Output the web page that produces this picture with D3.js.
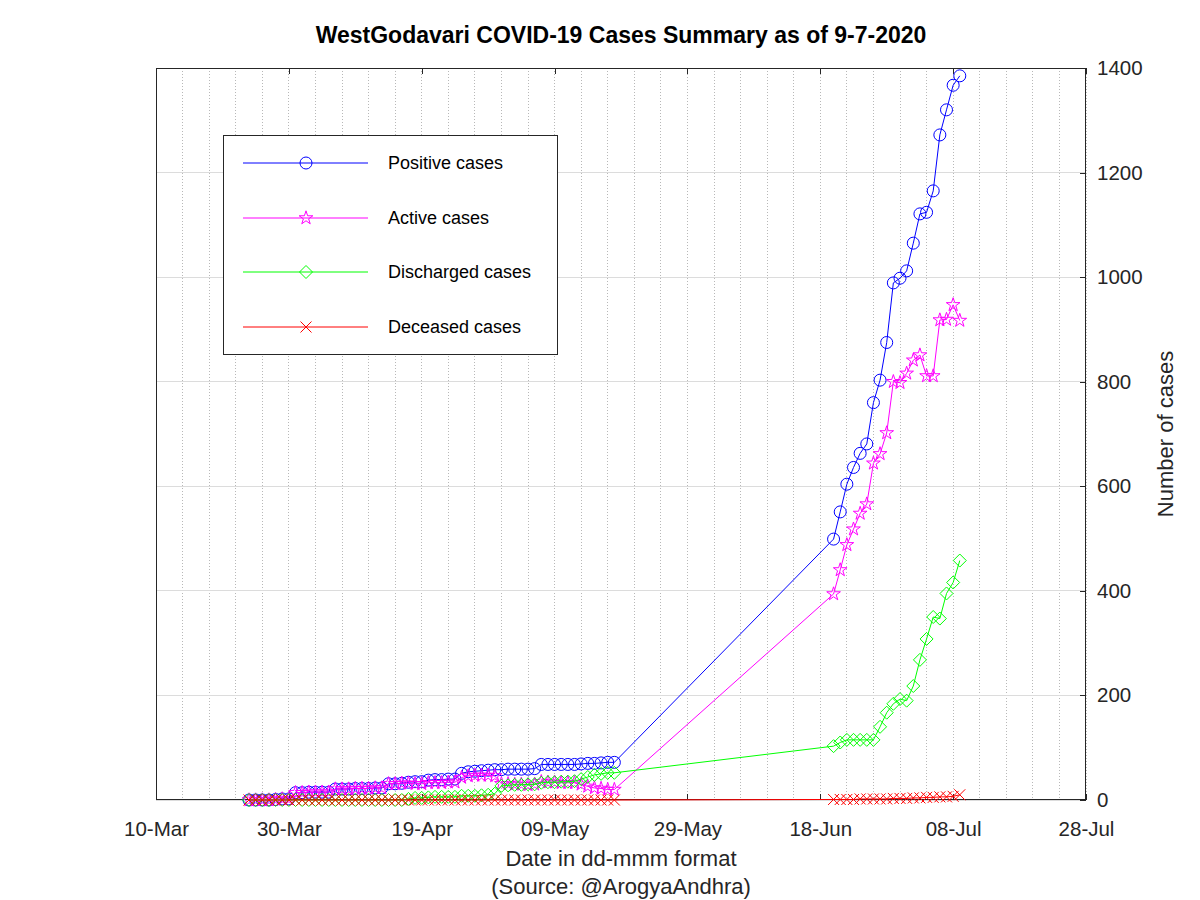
<!DOCTYPE html>
<html>
<head>
<meta charset="utf-8">
<script src="https://cdn.jsdelivr.net/npm/d3@7"></script>
<style>
  html, body { margin: 0; padding: 0; background: #ffffff; }
  svg { display: block; }
  text { font-family: "Liberation Sans", Arial, Helvetica, sans-serif; }
</style>
</head>
<body>
<svg id="chart" width="1200" height="900"></svg>
<script>
// ---------------- DATA ----------------
const dates = [
  "2020-03-24","2020-03-25","2020-03-26","2020-03-27","2020-03-28","2020-03-29","2020-03-30","2020-03-31",
  "2020-04-01","2020-04-02","2020-04-03","2020-04-04","2020-04-05","2020-04-06","2020-04-07","2020-04-08",
  "2020-04-09","2020-04-10","2020-04-11","2020-04-12","2020-04-13","2020-04-14","2020-04-15","2020-04-16",
  "2020-04-17","2020-04-18","2020-04-19","2020-04-20","2020-04-21","2020-04-22","2020-04-23","2020-04-24",
  "2020-04-25","2020-04-26","2020-04-27","2020-04-28","2020-04-29","2020-04-30","2020-05-01","2020-05-02",
  "2020-05-03","2020-05-04","2020-05-05","2020-05-06","2020-05-07","2020-05-08","2020-05-09","2020-05-10",
  "2020-05-11","2020-05-12","2020-05-13","2020-05-14","2020-05-15","2020-05-16","2020-05-17","2020-05-18",
  "2020-06-20","2020-06-21","2020-06-22","2020-06-23","2020-06-24","2020-06-25","2020-06-26","2020-06-27",
  "2020-06-28","2020-06-29","2020-06-30","2020-07-01","2020-07-02","2020-07-03","2020-07-04","2020-07-05",
  "2020-07-06","2020-07-07","2020-07-08","2020-07-09"
];
const positive = [
  0,0,0,0,1,2,2,14, 14,15,15,15,15,21,21,21, 22,22,22,23,23,31,31,32, 34,35,35,38,39,39,40,40,
  51,54,55,56,57,58,58,59, 59,59,59,60,68,68,68,68, 68,68,69,70,70,71,72,72,
  499,551,604,636,663,681,760,803, 875,989,998,1012,1065,1121,1124,1165, 1272,1320,1367,1385
];
const active = [
  0,0,0,0,1,2,2,14, 14,15,15,15,15,21,21,21, 22,22,22,23,23,31,31,32, 32,31,31,33,33,33,34,34,
  43,46,47,47,47,46,31,31, 30,30,29,30,35,34,34,33, 33,33,30,26,23,22,20,20,
  394,440,488,518,548,566,644,662, 702,800,798,816,841,851,811,811, 918,919,947,917
];
const discharged = [
  0,0,0,0,0,0,0,0, 0,0,0,0,0,0,0,0, 0,0,0,0,0,0,0,0, 2,4,4,5,6,6,6,6,
  8,8,8,9,10,12,27,28, 29,29,30,30,33,34,34,35, 35,36,40,44,48,50,52,52,
  103,110,115,115,115,115,115,140, 167,184,193,190,218,268,308,350, 347,395,416,458
];
const deceased = [
  0,0,0,0,0,0,0,0, 0,0,0,0,0,0,0,0, 0,0,0,0,0,0,0,0, 0,0,0,0,0,0,0,0,
  0,0,0,0,0,0,0,0, 0,0,0,0,0,0,0,0, 0,0,0,0,0,0,0,0,
  1,1,1,1,2,2,2,2, 2,3,3,3,4,4,5,5, 6,6,7,10
];
const seriesNames = ["Positive cases","Active cases","Discharged cases","Deceased cases"];
const seriesColors = ["#0000ff","#ff00ff","#00ff00","#ff0000"];
const seriesMarkers = ["circle","star","diamond","cross"];
const xTickDates = ["2020-03-10","2020-03-30","2020-04-19","2020-05-09","2020-05-29","2020-06-18","2020-07-08","2020-07-28"];
const xTickLabels = ["10-Mar","30-Mar","19-Apr","09-May","29-May","18-Jun","08-Jul","28-Jul"];
const yTicks = [0,200,400,600,800,1000,1200,1400];
const titleText = "WestGodavari COVID-19 Cases Summary as of 9-7-2020";
const xLabel = "Date in dd-mmm format";
const xSource = "(Source: @ArogyaAndhra)";
const yLabel = "Number of cases";

// ---------------- LAYOUT ----------------
const L = 156, R = 1086, T = 68, B = 800;
const axisColor = "#262626";
const parse = d3.utcParse("%Y-%m-%d");
const dateObjs = dates.map(parse);

const svg = d3.select("#chart");
const x = d3.scaleUtc().domain([parse(xTickDates[0]), parse(xTickDates[xTickDates.length-1])]).range([L, R]);
const y = d3.scaleLinear().domain([0, 1400]).range([B, T]);

// plot background
svg.append("rect").attr("x", L).attr("y", T).attr("width", R - L).attr("height", B - T).attr("fill", "#fff");

// minor vertical grid (every 4 days, dotted)
const minorDays = d3.utcDay.range(x.domain()[0], d3.utcDay.offset(x.domain()[1], 1), 4);
svg.append("g").selectAll("line").data(minorDays).join("line")
  .attr("x1", d => x(d)).attr("x2", d => x(d)).attr("y1", T).attr("y2", B)
  .attr("stroke", "#b8b8b8").attr("stroke-width", 1).attr("stroke-dasharray", "1,2")
  .attr("shape-rendering", "crispEdges");

// horizontal major grid
svg.append("g").selectAll("line").data(yTicks).join("line")
  .attr("x1", L).attr("x2", R).attr("y1", d => y(d)).attr("y2", d => y(d))
  .attr("stroke", "#dcdcdc").attr("stroke-width", 1).attr("shape-rendering", "crispEdges");

// axes
const xTickObjs = xTickDates.map(parse);
const gx = svg.append("g").attr("transform", `translate(0,${B})`)
  .call(d3.axisBottom(x).tickValues(xTickObjs).tickFormat((d, i) => xTickLabels[i]).tickSize(-6).tickPadding(21));
const gxTop = svg.append("g").attr("transform", `translate(0,${T})`)
  .call(d3.axisTop(x).tickValues(xTickObjs).tickFormat("").tickSize(-6));
const gy = svg.append("g").attr("transform", `translate(${R},0)`)
  .call(d3.axisRight(y).tickValues(yTicks).tickFormat(d3.format("d")).tickSize(-6).tickPadding(11));
[gx, gxTop, gy].forEach(g => {
  g.select(".domain").remove();
  g.selectAll(".tick line").attr("stroke", axisColor).attr("shape-rendering", "crispEdges");
  g.selectAll(".tick text").attr("fill", axisColor).style("font-size", "20.5px")
    .style("font-family", '"Liberation Sans", Arial, sans-serif');
});

// box
svg.append("rect").attr("x", L + 0.5).attr("y", T + 0.5).attr("width", R - L - 1).attr("height", B - T - 1)
  .attr("fill", "none").attr("stroke", axisColor).attr("stroke-width", 1);

// marker drawing
function drawMarker(sel, type, color) {
  if (type === "circle") {
    sel.append("circle").attr("r", 6).attr("fill", "none").attr("stroke", color).attr("stroke-width", 1);
  } else if (type === "star") {
    sel.append("path").attr("d", d3.symbol(d3.symbolStar, 58)()).attr("fill", "none").attr("stroke", color).attr("stroke-width", 1);
  } else if (type === "diamond") {
    const r = 6.5;
    sel.append("path").attr("d", `M0,${-r}L${r},0L0,${r}L${-r},0Z`).attr("fill", "none").attr("stroke", color).attr("stroke-width", 1);
  } else if (type === "cross") {
    const r = 5.5;
    sel.append("path").attr("d", `M${-r},${-r}L${r},${r}M${-r},${r}L${r},${-r}`).attr("fill", "none").attr("stroke", color).attr("stroke-width", 1);
  }
}

// series
const allSeries = [positive, active, discharged, deceased];
const line = d3.line().x((d, i) => x(dateObjs[i])).y(d => y(d));
allSeries.forEach((vals, s) => {
  const g = svg.append("g");
  g.append("path").datum(vals).attr("d", line).attr("fill", "none")
    .attr("stroke", seriesColors[s]).attr("stroke-width", 1);
  vals.forEach((v, i) => {
    const m = g.append("g").attr("transform", `translate(${x(dateObjs[i])},${y(v)})`);
    drawMarker(m, seriesMarkers[s], seriesColors[s]);
  });
});

// legend
const lg = svg.append("g");
lg.append("rect").attr("x", 223.5).attr("y", 135.5).attr("width", 334).attr("height", 219)
  .attr("fill", "#fff").attr("stroke", axisColor).attr("stroke-width", 1);
const rowY = [163, 218, 272, 327];
seriesNames.forEach((name, s) => {
  const ry = rowY[s];
  lg.append("line").attr("x1", 243).attr("x2", 368).attr("y1", ry).attr("y2", ry)
    .attr("stroke", seriesColors[s]).attr("stroke-width", 1);
  drawMarker(lg.append("g").attr("transform", `translate(306,${ry})`), seriesMarkers[s], seriesColors[s]);
  lg.append("text").attr("x", 388).attr("y", ry).attr("dy", "0.35em")
    .style("font-size", "18px").attr("fill", "#000").text(name);
});

// title and labels
svg.append("text").attr("x", (L + R) / 2).attr("y", 43).attr("text-anchor", "middle")
  .style("font-size", "23px").style("font-weight", "bold").attr("fill", "#000").text(titleText);
svg.append("text").attr("x", (L + R) / 2).attr("y", 866).attr("text-anchor", "middle")
  .style("font-size", "22px").attr("fill", "#262626").text(xLabel);
svg.append("text").attr("x", (L + R) / 2).attr("y", 894).attr("text-anchor", "middle")
  .style("font-size", "22px").attr("fill", "#262626").text(xSource);
svg.append("text").attr("transform", `translate(1173,${(T + B) / 2}) rotate(-90)`)
  .attr("text-anchor", "middle").style("font-size", "22px").attr("fill", "#262626").text(yLabel);
</script>
</body>
</html>
